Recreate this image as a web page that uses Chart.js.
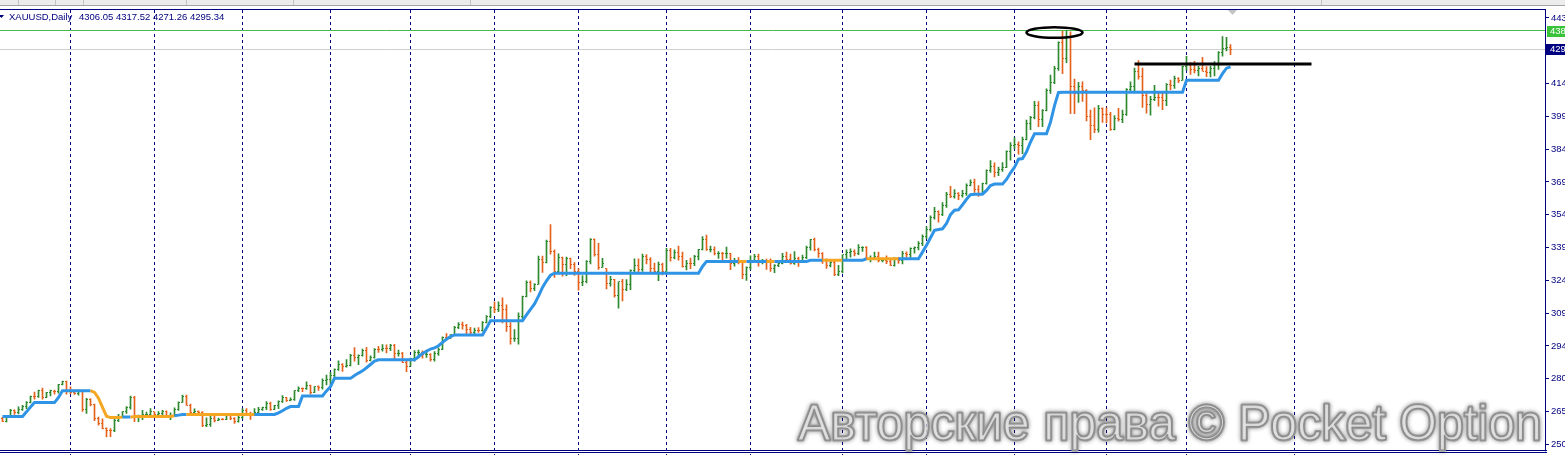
<!DOCTYPE html>
<html>
<head>
<meta charset="utf-8">
<script src="https://cdn.jsdelivr.net/npm/chart.js@4.4.1/dist/chart.umd.min.js"></script>
<style>
  html, body { margin: 0; padding: 0; background: #fff; overflow: hidden; }
  canvas { display: block; }
</style>
</head>
<body>
<canvas id="chart" width="1565" height="455"></canvas>
<script>
const symbolTitle = "XAUUSD,Daily";
const lastQuote = "4306.05 4317.52 4271.26 4295.34";
const watermark = "Авторские права © Pocket Option";

// daily bars, Oct 9 2024 .. Dec 16 2025 (index = bar number)
const opens = [
  2622,2608,2630,2655,2649,2662,2674,2693,2721,2719,
  2748,2715,2736,2744,2742,2774,2787,2743,2736,2735,
  2743,2659,2707,2685,2619,2598,2573,2565,2563,2612,
  2631,2650,2670,2715,2625,2632,2636,2640,2650,2640,
  2643,2650,2631,2633,2660,2694,2718,2681,2648,2652,
  2646,2586,2594,2622,2612,2617,2616,2634,2621,2606,
  2624,2658,2640,2636,2648,2661,2670,2690,2662,2677,
  2697,2714,2703,2708,2745,2755,2754,2771,2740,2763,
  2760,2794,2798,2815,2842,2867,2856,2861,2907,2898,
  2904,2928,2882,2898,2935,2933,2939,2936,2951,2915,
  2916,2875,2857,2893,2918,2920,2910,2911,2889,2916,
  2934,2988,2984,3000,3034,3048,3044,3022,3011,3020,
  3019,3057,3084,3123,3113,3133,3114,3037,2982,2983,
  3083,3175,3237,3210,3229,3342,3327,3424,3380,3288,
  3349,3319,3344,3317,3288,3239,3241,3334,3431,3365,
  3307,3300,3234,3249,3177,3240,3204,3230,3290,3314,
  3295,3357,3343,3300,3288,3317,3289,3381,3352,3372,
  3353,3310,3325,3322,3354,3386,3433,3385,3388,3369,
  3370,3368,3369,3323,3333,3327,3274,3303,3338,3357,
  3326,3337,3336,3302,3313,3325,3355,3343,3324,3347,
  3339,3350,3397,3431,3387,3368,3336,3314,3326,3275,
  3289,3363,3373,3380,3368,3396,3398,3341,3348,3356,
  3335,3336,3332,3315,3348,3339,3371,3365,3393,3397,
  3416,3448,3476,3533,3560,3545,3586,3636,3626,3641,
  3634,3643,3679,3690,3660,3643,3685,3746,3764,3736,
  3749,3760,3833,3858,3865,3857,3886,3961,3985,4040,
  3975,4018,4110,4143,4208,4326,4252,4356,4125,4095,
  4126,4111,3990,3952,3931,4025,4002,4000,3932,3980,
  3977,4001,4115,4127,4195,4171,4084,4046,4067,4078,
  4077,4065,4136,4131,4164,4156,4218,4232,4205,4201,
  4209,4197,4190,4208,4229,4280,4300,4306.05
];
const highs = [
  2625,2633,2661,2659,2673,2679,2697,2722,2740,2749,
  2758,2738,2749,2749,2775,2790,2790,2764,2750,2750,
  2746,2711,2710,2685,2626,2618,2577,2574,2616,2639,
  2651,2674,2721,2720,2635,2657,2649,2665,2650,2651,
  2657,2655,2645,2668,2695,2726,2726,2685,2664,2654,
  2651,2623,2633,2631,2622,2621,2639,2635,2624,2630,
  2665,2665,2649,2665,2671,2672,2697,2694,2680,2700,
  2724,2716,2714,2746,2763,2759,2786,2772,2765,2768,
  2800,2817,2830,2845,2882,2869,2887,2911,2942,2909,
  2935,2943,2904,2937,2947,2955,2954,2956,2957,2930,
  2920,2881,2894,2928,2930,2927,2930,2914,2924,2940,
  2990,3005,3001,3038,3055,3057,3047,3034,3030,3033,
  3060,3087,3128,3149,3149,3167,3136,3055,3023,3099,
  3176,3245,3245,3232,3357,3357,3430,3500,3386,3367,
  3353,3352,3348,3328,3300,3269,3337,3437,3435,3415,
  3347,3300,3265,3252,3240,3252,3250,3295,3345,3345,
  3366,3364,3350,3325,3330,3325,3392,3392,3385,3403,
  3375,3338,3348,3360,3388,3446,3452,3403,3399,3378,
  3374,3398,3369,3347,3350,3328,3308,3358,3365,3366,
  3342,3343,3345,3318,3331,3369,3375,3366,3377,3353,
  3362,3402,3433,3439,3393,3373,3345,3334,3334,3315,
  3363,3385,3390,3385,3409,3400,3400,3358,3375,3375,
  3346,3358,3345,3350,3351,3379,3376,3394,3399,3423,
  3453,3490,3540,3578,3563,3600,3646,3674,3659,3645,
  3655,3685,3703,3707,3677,3688,3749,3791,3780,3761,
  3782,3835,3872,3895,3876,3897,3975,3991,4060,4059,
  4022,4116,4179,4218,4330,4379,4381,4375,4161,4146,
  4148,4113,4020,4030,4041,4030,4030,4010,3995,4028,
  4020,4118,4148,4210,4245,4211,4097,4082,4132,4100,
  4100,4140,4156,4174,4167,4219,4264,4237,4241,4219,
  4259,4217,4219,4240,4286,4353,4350,4317.52
];
const lows = [
  2605,2604,2624,2638,2640,2656,2664,2691,2708,2716,
  2708,2714,2722,2730,2735,2772,2730,2731,2729,2726,
  2652,2643,2677,2610,2589,2572,2536,2537,2560,2605,
  2625,2643,2662,2605,2605,2614,2630,2633,2622,2631,
  2632,2623,2614,2630,2656,2693,2679,2643,2645,2637,
  2583,2583,2584,2604,2610,2613,2614,2614,2597,2603,
  2620,2635,2615,2634,2642,2656,2660,2656,2660,2664,
  2693,2697,2700,2702,2741,2741,2752,2730,2737,2747,
  2753,2772,2772,2805,2838,2834,2853,2859,2880,2864,
  2903,2876,2881,2894,2920,2925,2918,2928,2890,2903,
  2873,2832,2857,2880,2894,2894,2897,2880,2880,2906,
  2932,2977,2982,2999,3028,3025,2999,3002,3004,3011,
  3016,3054,3076,3100,3105,3054,3015,2957,2970,2957,
  3073,3172,3194,3200,3228,3283,3326,3366,3260,3283,
  3266,3268,3300,3269,3202,3223,3235,3322,3357,3296,
  3306,3208,3220,3171,3121,3154,3200,3205,3286,3278,
  3287,3322,3285,3282,3245,3271,3287,3334,3344,3339,
  3307,3294,3300,3314,3340,3385,3383,3376,3362,3347,
  3340,3348,3295,3311,3322,3255,3247,3296,3327,3311,
  3322,3296,3287,3282,3309,3322,3341,3320,3319,3310,
  3332,3345,3384,3381,3351,3324,3301,3308,3268,3268,
  3281,3345,3352,3358,3364,3378,3341,3331,3343,3331,
  3330,3323,3314,3311,3324,3321,3352,3351,3370,3385,
  3404,3436,3470,3525,3511,3540,3578,3622,3620,3613,
  3625,3633,3676,3646,3628,3638,3684,3737,3717,3722,
  3741,3758,3793,3844,3820,3822,3884,3931,3980,3945,
  3945,4016,4095,4140,4200,4185,4235,4004,4004,4055,
  4059,3971,3886,3917,3920,3964,3962,3928,3930,3970,
  3963,3996,4101,4100,4160,4032,4006,3997,4063,4038,
  4022,4040,4111,4118,4144,4154,4201,4182,4189,4175,
  4196,4172,4170,4175,4204,4265,4288,4271.26
];
const closes = [
  2608,2630,2657,2649,2662,2674,2693,2721,2719,2748,
  2715,2736,2747,2742,2774,2787,2743,2736,2735,2743,
  2659,2707,2685,2619,2598,2573,2565,2563,2612,2631,
  2650,2670,2715,2625,2632,2636,2640,2650,2640,2643,
  2650,2631,2633,2660,2694,2718,2681,2648,2652,2646,
  2586,2594,2622,2612,2617,2616,2634,2621,2606,2624,
  2658,2640,2636,2648,2661,2670,2690,2662,2677,2697,
  2714,2703,2708,2745,2755,2754,2771,2740,2763,2760,
  2794,2798,2815,2842,2867,2856,2861,2907,2898,2904,
  2928,2882,2898,2935,2933,2939,2936,2951,2915,2916,
  2875,2857,2893,2918,2920,2910,2911,2889,2916,2934,
  2988,2984,3000,3034,3048,3044,3022,3011,3020,3019,
  3057,3084,3123,3113,3133,3114,3037,2982,2983,3083,
  3175,3237,3210,3229,3342,3327,3424,3380,3288,3349,
  3319,3344,3317,3288,3239,3241,3334,3431,3365,3307,
  3325,3234,3249,3177,3240,3204,3230,3290,3314,3295,
  3357,3343,3300,3288,3317,3289,3381,3352,3372,3353,
  3310,3325,3322,3354,3386,3433,3385,3388,3369,3370,
  3368,3369,3323,3333,3327,3274,3303,3338,3357,3326,
  3337,3336,3302,3313,3325,3355,3343,3324,3347,3339,
  3350,3397,3431,3387,3368,3336,3314,3326,3275,3289,
  3363,3373,3380,3368,3396,3398,3341,3348,3356,3335,
  3336,3332,3315,3348,3339,3371,3365,3393,3397,3416,
  3448,3476,3533,3560,3545,3586,3636,3626,3641,3634,
  3643,3679,3690,3660,3643,3685,3746,3764,3736,3749,
  3760,3833,3858,3865,3857,3886,3961,3985,4040,3975,
  4018,4110,4143,4208,4326,4252,4356,4125,4095,4126,
  4111,3990,3952,3931,4025,4002,4000,3932,3980,3977,
  4001,4115,4127,4195,4171,4084,4046,4067,4078,4077,
  4065,4136,4131,4164,4156,4218,4232,4205,4201,4209,
  4197,4190,4208,4229,4280,4300,4305,4295.34
];

// trailing stop indicator, one value per bar
const trail = [
  2629,2629,2629,2629,2629,2629,2650,2672,2692,2692,
  2692,2692,2692,2692,2715,2746,2746,2746,2746,2746,
  2746,2746,2746,2738,2712,2670,2630,2624,2624,2624,
  2626,2626,2626,2629,2629,2629,2629,2629,2629,2629,
  2629,2629,2629,2632,2635,2638,2638,2638,2638,2638,
  2638,2638,2638,2638,2638,2638,2638,2638,2638,2638,
  2638,2638,2638,2638,2638,2638,2638,2638,2638,2645,
  2655,2666,2674,2674,2674,2722,2722,2722,2722,2722,
  2722,2745,2764,2802,2802,2802,2802,2802,2815,2826,
  2836,2850,2865,2880,2886,2886,2886,2886,2886,2886,
  2886,2886,2886,2886,2900,2915,2925,2935,2940,2950,
  2965,2980,2992,2999,2999,2999,2999,2999,2999,2999,
  2999,3030,3063,3063,3063,3063,3063,3063,3063,3063,
  3063,3090,3115,3140,3175,3215,3245,3270,3279,3279,
  3279,3279,3279,3279,3279,3279,3279,3279,3279,3279,
  3279,3279,3279,3279,3279,3279,3279,3279,3279,3279,
  3279,3279,3279,3279,3279,3279,3279,3279,3279,3279,
  3279,3279,3279,3279,3279,3310,3333,3333,3333,3333,
  3333,3333,3333,3333,3333,3333,3333,3333,3333,3333,
  3333,3333,3333,3333,3333,3333,3333,3333,3333,3333,
  3333,3333,3338,3338,3338,3338,3338,3338,3338,3338,
  3338,3338,3338,3338,3338,3338,3345,3345,3345,3345,
  3345,3345,3345,3345,3345,3345,3345,3345,3345,3345,
  3375,3406,3440,3474,3478,3481,3505,3545,3565,3567,
  3590,3615,3636,3638,3638,3638,3655,3677,3684,3684,
  3684,3705,3735,3760,3797,3800,3830,3875,3912,3912,
  3912,3912,3965,4040,4100,4101,4101,4101,4101,4101,
  4101,4101,4101,4101,4101,4101,4101,4101,4101,4101,
  4101,4101,4101,4101,4101,4101,4101,4101,4101,4101,
  4101,4101,4101,4101,4101,4101,4155,4155,4155,4155,
  4155,4155,4155,4155,4155,4185,4210,4216
];
// bar ranges where the indicator is drawn orange
const trailDownRanges = [[22, 30], [32, 43], [46, 63], [184, 186], [191, 193], [205, 210], [216, 224]];

// monthly period separators (bar numbers)
const separatorBars = [17, 38, 60, 82, 102, 123, 144, 166, 187, 210, 231, 253, 276, 296, 323];

const yTickValues = [2502.5, 2651.4, 2800.3, 2949.2, 3098.1, 3247.0, 3395.9, 3544.8, 3693.7, 3842.6, 3991.5, 4140.4, 4438.2];
const yTickLabels = ['250', '265', '280', '294', '309', '324', '339', '354', '369', '384', '399', '414', '443'];

const levelPrice = 4380;
const levelLabel = '438';
const bidPrice = 4295.34;
const bidLabel = '429';

// hand-drawn objects on the chart
const resistanceLine = { from: 283, to: 327.25, price: 4230.6 };
const peakEllipse = { from: 256, to: 270, low: 4348, high: 4396 };

const UP = '#2f8a2f';
const DOWN = '#e4621c';
const BLUE = '#2f93e6';
const ORANGE = '#f5a623';
const NAVY = '#000080';
const FONT = '"Liberation Sans", Arial, sans-serif';

function isDown(i) {
  return trailDownRanges.some(r => i >= r[0] && i < r[1]);
}

const mt4Frame = {
  id: 'mt4Frame',
  beforeDraw(chart) {
    const ctx = chart.ctx;
    ctx.save();
    ctx.fillStyle = '#fff';
    ctx.fillRect(0, 0, chart.width, chart.height);
    ctx.fillStyle = '#ececec';
    ctx.fillRect(0, 0, chart.width, 5);
    ctx.fillStyle = '#a4a4a4';
    ctx.fillRect(0, 5, chart.width, 1);
    ctx.fillStyle = '#c4c4c4';
    [18, 55, 83, 186, 293, 470, 1321].forEach(px => ctx.fillRect(px, 0, 1, 5));
    ctx.restore();
  },
  beforeDatasetsDraw(chart) {
    const { ctx, chartArea: a, scales: { x, y } } = chart;
    ctx.save();

    // period separators
    ctx.strokeStyle = NAVY;
    ctx.lineWidth = 1;
    ctx.setLineDash([3, 3]);
    separatorBars.forEach(b => {
      const px = Math.floor(x.getPixelForValue(b)) + 0.5;
      ctx.beginPath();
      ctx.moveTo(px, a.top);
      ctx.lineTo(px, chart.height);
      ctx.stroke();
    });
    ctx.setLineDash([]);

    // level line and bid line
    const ly = Math.floor(y.getPixelForValue(levelPrice)) + 0.5;
    ctx.strokeStyle = '#4cb84c';
    ctx.beginPath(); ctx.moveTo(a.left, ly); ctx.lineTo(a.right, ly); ctx.stroke();
    const by = Math.floor(y.getPixelForValue(bidPrice)) + 0.5;
    ctx.strokeStyle = '#cfcfcf';
    ctx.beginPath(); ctx.moveTo(a.left, by); ctx.lineTo(a.right, by); ctx.stroke();

    // open / close ticks
    for (let i = 0; i < opens.length; i++) {
      const px = x.getPixelForValue(i);
      ctx.fillStyle = closes[i] >= opens[i] ? UP : DOWN;
      ctx.fillRect(Math.round(px - 1.5), Math.round(y.getPixelForValue(opens[i]) - 0.5), 1, 1);
      ctx.fillRect(Math.round(px + 0.5), Math.round(y.getPixelForValue(closes[i]) - 0.5), 1, 1);
    }
    ctx.restore();
  },
  afterDatasetsDraw(chart) {
    const { ctx, scales: { x, y } } = chart;
    ctx.save();
    ctx.strokeStyle = '#000';
    ctx.lineWidth = 3;
    const ry = Math.round(y.getPixelForValue(resistanceLine.price));
    ctx.beginPath();
    ctx.moveTo(x.getPixelForValue(resistanceLine.from), ry);
    ctx.lineTo(x.getPixelForValue(resistanceLine.to), ry);
    ctx.stroke();

    const x1 = x.getPixelForValue(peakEllipse.from), x2 = x.getPixelForValue(peakEllipse.to);
    const y1 = y.getPixelForValue(peakEllipse.high), y2 = y.getPixelForValue(peakEllipse.low);
    ctx.lineWidth = 2.6;
    ctx.beginPath();
    ctx.ellipse((x1 + x2) / 2, (y1 + y2) / 2, (x2 - x1) / 2, (y2 - y1) / 2, 0, 0, Math.PI * 2);
    ctx.stroke();
    ctx.restore();
  },
  afterDraw(chart) {
    const { ctx, chartArea: a, scales: { y } } = chart;
    ctx.save();

    // frame
    ctx.fillStyle = NAVY;
    ctx.fillRect(0, a.top - 1, a.right + 1, 1);
    ctx.fillRect(0, 450, a.right + 2, 1);
    ctx.fillRect(0, 452, a.right + 2, 1);
    ctx.fillRect(a.right, a.bottom, 1, 4);

    // price boxes on the axis
    ctx.font = '9.5px ' + FONT;
    ctx.textBaseline = 'middle';
    const ly = y.getPixelForValue(levelPrice);
    ctx.fillStyle = '#38c238';
    ctx.fillRect(a.right + 2, Math.round(ly) - 5, 20, 11);
    ctx.fillStyle = '#fff';
    ctx.fillText(levelLabel, a.right + 5, Math.round(ly) + 0.5);
    const by = y.getPixelForValue(bidPrice);
    ctx.fillStyle = NAVY;
    ctx.fillRect(a.right + 1, Math.round(by) - 5, 20, 11);
    ctx.fillStyle = '#fff';
    ctx.fillText(bidLabel, a.right + 5, Math.round(by) + 0.5);

    // title
    ctx.fillStyle = NAVY;
    ctx.beginPath();
    ctx.moveTo(-1, 15); ctx.lineTo(4, 15); ctx.lineTo(1.5, 18); ctx.closePath();
    ctx.fill();
    ctx.fillText(symbolTitle, 9, 17.5);
    ctx.fillText(lastQuote, 79, 17.5);

    // chart shift marker
    ctx.fillStyle = '#c4c4c4';
    ctx.beginPath();
    ctx.moveTo(1228, 10); ctx.lineTo(1237, 10); ctx.lineTo(1232.5, 15); ctx.closePath();
    ctx.fill();

    // watermark
    ctx.font = '50px ' + FONT;
    ctx.textBaseline = 'alphabetic';
    const w = ctx.measureText(watermark).width;
    ctx.translate(798, 440);
    ctx.scale(744 / w, 1);
    ctx.lineJoin = 'round';
    ctx.shadowColor = 'rgba(0,0,0,0.45)';
    ctx.shadowBlur = 4;
    ctx.strokeStyle = '#9a9a9a';
    ctx.lineWidth = 3;
    ctx.strokeText(watermark, 0, 0);
    ctx.shadowBlur = 0;
    ctx.shadowColor = 'transparent';
    ctx.fillStyle = 'rgba(255,255,255,0.6)';
    ctx.fillText(watermark, 0, 0);
    ctx.strokeStyle = '#8a8a8a';
    ctx.lineWidth = 1.2;
    ctx.strokeText(watermark, 0, 0);
    ctx.restore();
  }
};

new Chart(document.getElementById('chart'), {
  type: 'bar',
  data: {
    datasets: [
      {
        type: 'line',
        label: 'trail',
        data: trail.map((v, i) => ({ x: i, y: v })),
        borderColor: BLUE,
        borderWidth: 3,
        pointRadius: 0,
        tension: 0,
        order: 0,
        segment: {
          borderColor: c => isDown(c.p0DataIndex) ? ORANGE : BLUE
        }
      },
      {
        type: 'bar',
        label: 'XAUUSD',
        data: lows.map((l, i) => ({ x: i, y: [l, highs[i]] })),
        backgroundColor: closes.map((c, i) => c >= opens[i] ? UP : DOWN),
        borderWidth: 0,
        barThickness: 1,
        minBarLength: 1,
        grouped: false,
        order: 1
      }
    ]
  },
  options: {
    responsive: false,
    animation: false,
    devicePixelRatio: 1,
    events: [],
    layout: { padding: { top: 10, bottom: 5, left: 0, right: 0 } },
    plugins: {
      legend: { display: false },
      tooltip: { enabled: false }
    },
    scales: {
      x: {
        type: 'linear',
        display: false,
        offset: false,
        min: -0.625,
        max: 385.625
      },
      y: {
        type: 'linear',
        position: 'right',
        min: 2489.0,
        max: 4474.2,
        afterFit: scale => { scale.width = 20; },
        afterBuildTicks: scale => { scale.ticks = yTickValues.map(v => ({ value: v })); },
        ticks: {
          autoSkip: false,
          padding: 2,
          color: NAVY,
          font: { family: FONT, size: 9.5 },
          callback: (v, i) => yTickLabels[i]
        },
        grid: {
          drawOnChartArea: false,
          drawTicks: true,
          tickLength: 4,
          color: NAVY
        },
        border: { display: true, color: NAVY }
      }
    }
  },
  plugins: [mt4Frame]
});
</script>
</body>
</html>
